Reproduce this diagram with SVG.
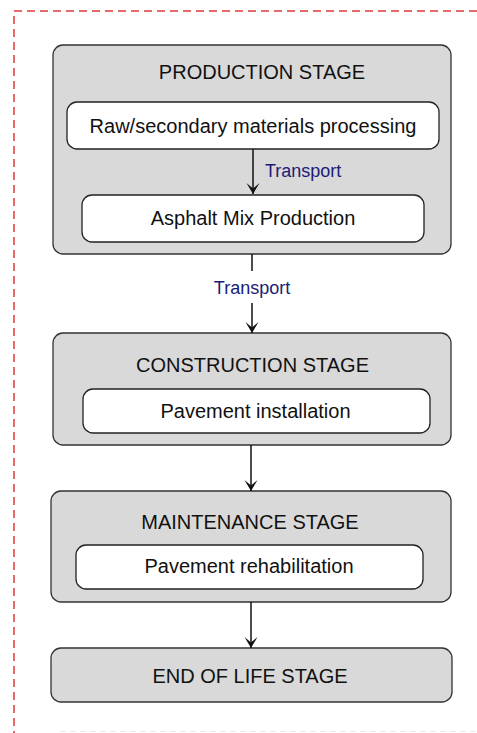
<svg xmlns="http://www.w3.org/2000/svg" width="477" height="733" viewBox="0 0 477 733">
  <style>
    .stage { fill: #d9d9d9; stroke: #333; stroke-width: 1.3; }
    .task { fill: #fff; stroke: #222; stroke-width: 1.3; }
    .title { font-family: "Liberation Sans", Arial, sans-serif; font-size: 20px; fill: #111; text-anchor: middle; }
    .label { font-family: "Liberation Sans", Arial, sans-serif; font-size: 18px; fill: #1c1c78; }
    .link { stroke: #111; stroke-width: 1.5; fill: none; }
    .frame { stroke: #e03a3a; stroke-width: 1.5; stroke-dasharray: 8 5; fill: none; }
  </style>
  <defs>
    <marker id="arrow" viewBox="-12 -7 13 14" refX="0" refY="0" markerWidth="13" markerHeight="14" markerUnits="userSpaceOnUse" orient="auto">
      <path d="M0,0 L-11,-6.5 L-5.5,0 L-11,6.5 Z" fill="#111"/>
    </marker>
  </defs>

  <rect width="477" height="733" fill="#fff"/>

  <!-- dashed frame round the whole chart -->
  <path class="frame" d="M477,11 H14 V733"/>
  <path d="M60,731.5 H477" stroke="#e6eaf2" stroke-width="1" stroke-dasharray="6 4" fill="none"/>

  <g id="production">
    <rect class="stage" x="53" y="45" width="398" height="209" rx="10"/>
    <text class="title" x="262" y="79">PRODUCTION STAGE</text>
  </g>
  <g id="raw-processing">
    <rect class="task" x="67" y="102" width="372" height="47" rx="10"/>
    <text class="title" x="253" y="133">Raw/secondary materials processing</text>
  </g>
  <g id="mix-production">
    <rect class="task" x="82" y="195" width="342" height="47" rx="10"/>
    <text class="title" x="253" y="225">Asphalt Mix Production</text>
  </g>

  <g id="construction">
    <rect class="stage" x="53" y="333" width="398" height="112" rx="10"/>
    <text class="title" x="252.5" y="372">CONSTRUCTION STAGE</text>
  </g>
  <g id="installation">
    <rect class="task" x="83" y="389" width="347" height="44" rx="10"/>
    <text class="title" x="255.5" y="418">Pavement installation</text>
  </g>

  <g id="maintenance">
    <rect class="stage" x="51" y="491" width="400" height="111" rx="10"/>
    <text class="title" x="250" y="529">MAINTENANCE STAGE</text>
  </g>
  <g id="rehabilitation">
    <rect class="task" x="76" y="545" width="347" height="44" rx="10"/>
    <text class="title" x="249" y="573">Pavement rehabilitation</text>
  </g>

  <g id="end-of-life">
    <rect class="stage" x="51" y="648" width="401" height="54" rx="10"/>
    <text class="title" x="250" y="683">END OF LIFE STAGE</text>
  </g>

  <g id="connectors">
    <line class="link" x1="253" y1="149" x2="253" y2="194" marker-end="url(#arrow)"/>
    <text class="label" x="265" y="177">Transport</text>
    <line class="link" x1="252" y1="254" x2="252" y2="271"/>
    <text class="label" x="252" y="294" text-anchor="middle">Transport</text>
    <line class="link" x1="252" y1="303" x2="252" y2="333" marker-end="url(#arrow)"/>
    <line class="link" x1="251" y1="445" x2="251" y2="491" marker-end="url(#arrow)"/>
    <line class="link" x1="251" y1="602" x2="251" y2="648" stroke-width="2" marker-end="url(#arrow)"/>
  </g>
</svg>
